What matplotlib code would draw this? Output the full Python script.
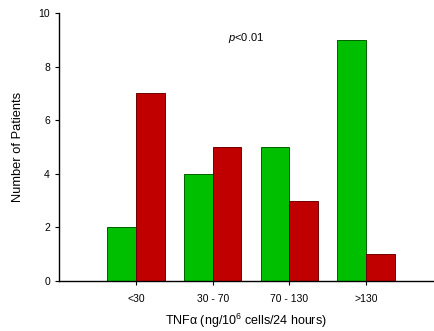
import numpy as np
import matplotlib.pyplot as plt

plt.rcParams['font.family'] = ['Liberation Sans', 'DejaVu Sans']
plt.rcParams['mathtext.fontset'] = 'custom'
plt.rcParams['mathtext.rm'] = 'Liberation Sans'
plt.rcParams['mathtext.it'] = 'Liberation Sans:italic'

# Data
categories = ['<30', '30 - 70', '70 - 130', '>130']
green_counts = [2, 4, 5, 9]
red_counts = [7, 5, 3, 1]

x = np.arange(len(categories))
width = 0.375

fig = plt.figure(figsize=(4.34, 3.31), dpi=100)
ax = fig.add_axes([0.136, 0.151, 0.862, 0.810])

ax.bar(x - width / 2, green_counts, width, color='#00BF00', edgecolor='#006000', linewidth=0.7)
ax.bar(x + width / 2, red_counts, width, color='#C00000', edgecolor='#700000', linewidth=0.7)

ax.set_xlim(-1.0, 3.87)
ax.set_ylim(0, 10)
ax.set_xticks(x)
ax.set_xticklabels(categories, fontsize=7.5)
ax.set_yticks([0, 2, 4, 6, 8, 10])
ax.tick_params(axis='y', labelsize=7.5, length=3, width=0.8, direction='out')
ax.tick_params(axis='x', length=3, width=0.8, direction='out', pad=6)

for side in ['top', 'right']:
    ax.spines[side].set_visible(False)
for side in ['left', 'bottom']:
    ax.spines[side].set_linewidth(1.0)

ax.set_ylabel('Number of Patients', fontsize=9.3, labelpad=10)
ax.set_xlabel('TNF\u03b1 (ng/10$^\\mathregular{6}$ cells/24 hours)', fontsize=9, labelpad=6)
ax.text(1.2, 8.95, '$\\it{p}$<0.01', fontsize=8)

fig.savefig('out.png', dpi=100)
